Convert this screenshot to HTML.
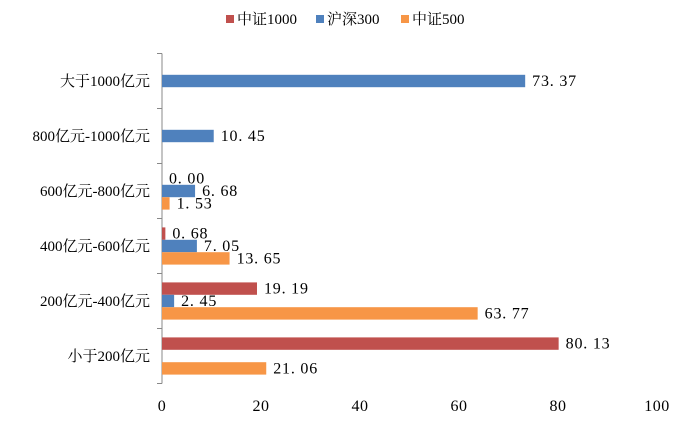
<!DOCTYPE html>
<html><head><meta charset="utf-8"><style>
body{margin:0;background:#fff;}
svg text{font-family:"Liberation Serif","Noto Serif CJK SC",serif;}
</style></head><body>
<svg id="chart" width="675" height="420"></svg>
<script>
const categories=["大于1000亿元","800亿元-1000亿元","600亿元-800亿元","400亿元-600亿元","200亿元-400亿元","小于200亿元"];
const seriesNames=["中证1000","沪深300","中证500"];
const csi1000=[null,null,0.00,0.68,19.19,80.13];
const hs300=[73.37,10.45,6.68,7.05,2.45,null];
const csi500=[null,null,1.53,13.65,63.77,21.06];
const xTicks=[0,20,40,60,80,100];
const colors=["#C0504D","#4F81BD","#F79646"];
const svg=document.getElementById('chart');
const NS="http://www.w3.org/2000/svg";
function mk(t,a,txt){const e=document.createElementNS(NS,t);for(const k in a)e.setAttribute(k,a[k]);if(txt!==undefined)e.textContent=txt;svg.appendChild(e);return e;}
const x0=162,pxPer=4.95,plotTop=53.5,step=55;
const xs=v=>x0+v*pxPer;
const yc=i=>plotTop+step*(i+0.5);
const bh=12.4;
let ax=mk('line',{x1:x0,y1:plotTop,x2:x0,y2:plotTop+step*categories.length,stroke:'#888','stroke-width':1});


for(let i=0;i<=categories.length;i++){
  const t=mk('line',{x1:x0-5,y1:plotTop+step*i,x2:x0,y2:plotTop+step*i,stroke:'#888'});
  
  
}
categories.forEach((c,i)=>{
  const t=mk('text',{x:150,y:yc(i)+5,'text-anchor':'end','font-size':15,fill:'#000'},c);
  
  
});
xTicks.forEach(v=>{
  const t=mk('text',{x:xs(v),y:411,'text-anchor':'middle','font-size':16,fill:'#000','letter-spacing':'0.5'},String(v));
  
  
});
const all=[csi1000,hs300,csi500];
all.forEach((arr,s)=>{
  arr.forEach((v,i)=>{
    if(v===null)return;
    const y=yc(i)+(s-1)*bh-bh/2;
    const r=mk('rect',{x:x0,y:y,width:Math.max(v*pxPer,0),height:bh,fill:colors[s]});
    
    
    const l=mk('text',{x:xs(v)+7,y:y+bh/2+5,'font-size':16,fill:'#000','letter-spacing':'0.8'},v.toFixed(2).replace('.','. '));
    
    
  });
});
const lx=[226,316,401];
seriesNames.forEach((n,s)=>{
  const r=mk('rect',{x:lx[s],y:15,width:8,height:8,fill:colors[s]});
  
  
  const t=mk('text',{x:lx[s]+11,y:24,'font-size':15,fill:'#000'},n);
  
  
});
</script>
</body></html>
